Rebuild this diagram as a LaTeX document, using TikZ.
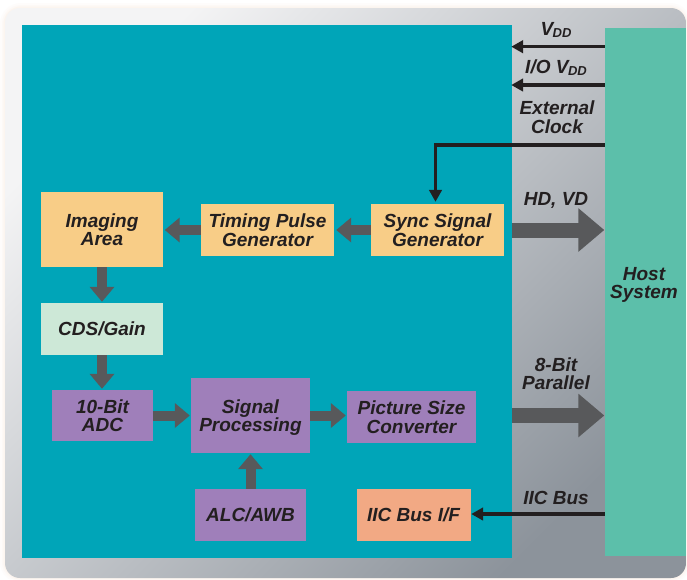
\documentclass[tikz,border=0pt]{standalone}
\usepackage{fontspec}
\setmainfont{Liberation Sans}
\usetikzlibrary{arrows.meta}
\definecolor{chipc}{HTML}{00A5B8}
\definecolor{hostc}{HTML}{5CBFAA}
\definecolor{yelc}{HTML}{F8CD87}
\definecolor{cdsc}{HTML}{CDE8D7}
\definecolor{purc}{HTML}{9F7FBA}
\definecolor{salc}{HTML}{F2A984}
\definecolor{garrow}{HTML}{58595B}
\definecolor{txt}{HTML}{231F20}
\definecolor{peach}{HTML}{F8D9C4}
\definecolor{frlight}{HTML}{F4F4F5}
\definecolor{frmid}{HTML}{C4C8CD}
\definecolor{frdark}{HTML}{8C939B}
\tikzset{
  lbl/.style={font=\fontsize{19}{18.5}\selectfont\bfseries\itshape, text=txt, inner sep=0pt, align=center, text depth=0pt},
  blk/.style={lbl, draw=none},
  garr/.style={draw=garrow, line width=10pt, -{Triangle[length=15pt,width=24pt]}},
  bigarr/.style={draw=garrow, line width=15pt, -{Triangle[length=26pt,width=42pt]}},
  barr/.style={draw=txt, line width=3.5pt, -{Triangle[length=12pt,width=12.5pt]}},
  glow/.style={draw=peach, rounded corners=16pt},
}
\newcommand{\vdd}{V\kern-0.5pt\raisebox{-2pt}{\fontsize{13}{13}\selectfont DD}}
\begin{document}
\begin{tikzpicture}[x=1pt,y=-1pt]
\useasboundingbox (0,0) rectangle (687,579);
\fill[white] (0,0) rectangle (687,579);
\foreach \w/\o in {10/0.06,6/0.08,3/0.12}
  \draw[glow, line width=\w pt, opacity=\o] (5,8) rectangle (686,578);
\shade[rounded corners=15pt, top color=frlight, middle color=frmid, bottom color=frdark, shading angle=45]
  (5,8) rectangle (686,578);
% main blocks
\node[fill=chipc, minimum width=490pt, minimum height=533pt, inner sep=0pt] (chip) at (267,291.5) {};
\node[fill=hostc, minimum width=81.5pt, minimum height=528pt, inner sep=0pt] (host) at (645.25,292) {};
\node[lbl] (hostlbl) at (644,283) {Host\\System};
% function blocks
\node[blk, fill=yelc, minimum width=122pt, minimum height=75pt] (img) at (102,229.5) {Imaging\\Area};
\node[blk, fill=yelc, minimum width=133pt, minimum height=52pt] (tpg) at (267.5,230) {Timing Pulse\\Generator};
\node[blk, fill=yelc, minimum width=133pt, minimum height=52pt] (ssg) at (437.5,230) {Sync Signal\\Generator};
\node[blk, fill=cdsc, minimum width=122pt, minimum height=52pt] (cds) at (102,329) {CDS/Gain};
\node[blk, fill=purc, minimum width=101pt, minimum height=51pt] (adc) at (102.5,415.5) {10-Bit\\ADC};
\node[blk, fill=purc, minimum width=119pt, minimum height=75pt] (sp) at (250.5,415.5) {Signal\\Processing};
\node[blk, fill=purc, minimum width=129pt, minimum height=52pt] (psc) at (411.5,417) {Picture Size\\Converter};
\node[blk, fill=purc, minimum width=111pt, minimum height=52pt] (alc) at (250.5,515) {ALC/AWB};
\node[blk, fill=salc, minimum width=114pt, minimum height=52pt] (iicbox) at (413.5,515) {IIC Bus I/F};
% gray arrows
\draw[garr, shorten >=2pt] (ssg.west) -- (tpg.east);
\draw[garr, shorten >=1.5pt] (tpg.west) -- (tpg.west -| img.east);
\draw[garr, shorten >=1pt] (img.south) -- (cds.north);
\draw[garr, shorten >=1pt] (cds.south) -- (cds.south |- adc.north);
\draw[garr, shorten >=1pt] (adc.east) -- (adc.east -| sp.west);
\draw[garr, shorten >=1pt] (sp.east) -- (sp.east -| psc.west);
\draw[garr, shorten >=1pt] (alc.north) -- (sp.south);
% big arrows to host
\draw[bigarr] (chip.east |- ssg) -- (host.west |- ssg);
\draw[bigarr] (chip.east |- sp) -- (host.west |- sp);
% black signal lines
\coordinate (vdd) at (604.5,46.7);
\coordinate (iovdd) at (604.5,85);
\coordinate (clk) at (604.5,145);
\coordinate (clkc) at (435.5,145);
\coordinate (iic) at (604.5,514);
\draw[barr, shorten >=-1pt] (vdd) -- (vdd -| chip.east);
\draw[barr, shorten >=-1pt] (iovdd) -- (iovdd -| chip.east);
\draw[barr, shorten >=2pt] (clk) -- (clkc) -- (clkc |- ssg.north);
\draw[barr, shorten >=0.5pt] (iic) -- (iic -| iicbox.east);
% labels
\node[lbl, anchor=base] (lvdd) at (556,35) {\vdd};
\node[lbl, anchor=base] (liovdd) at (556,73) {I/O \vdd};
\node[lbl] (lclk) at (557,117.2) {External\\Clock};
\node[lbl, anchor=base] (lhd) at (556,205) {HD, VD};
\node[lbl] (lpar) at (556,373.8) {8-Bit\\Parallel};
\node[lbl, anchor=base] (liic) at (556,504) {IIC Bus};
\end{tikzpicture}
\end{document}
